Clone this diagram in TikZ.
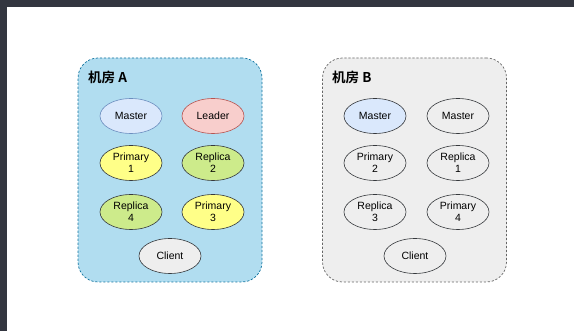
\documentclass[tikz,border=0pt]{standalone}
\usepackage{fontspec}
\usetikzlibrary{shapes.geometric}
\setmainfont{Liberation Sans}
\newfontfamily\cjk{Noto Sans CJK SC}[BoldFont={Noto Sans CJK SC Bold}]
\definecolor{frame}{HTML}{333640}
\definecolor{roomAfill}{HTML}{B1DDF0}
\definecolor{roomAline}{HTML}{10739E}
\definecolor{roomBfill}{HTML}{EEEEEE}
\definecolor{roomBline}{HTML}{666666}
\definecolor{darkline}{HTML}{36393D}
\definecolor{masterfill}{HTML}{DAE8FC}
\definecolor{masterline}{HTML}{6C8EBF}
\definecolor{leaderfill}{HTML}{F8CECC}
\definecolor{leaderline}{HTML}{B85450}
\definecolor{primaryfill}{HTML}{FFFF88}
\definecolor{replicafill}{HTML}{CDEB8B}
\definecolor{clientfill}{HTML}{EEEEEE}
\begin{document}
\begin{tikzpicture}[x=1pt,y=-1pt,
  room/.style={draw, dashed, dash pattern=on 2.2pt off 1.8pt, line width=0.7pt,
    rounded corners=20pt, minimum width=184pt, minimum height=224pt, inner sep=0pt},
  roomtitle/.style={anchor=west, font=\cjk\bfseries\fontsize{13.5}{15}\selectfont, inner sep=0pt},
  proc/.style={ellipse, draw=darkline, line width=0.6pt, minimum width=62pt,
    minimum height=35pt, inner sep=0pt, align=center,
    font=\fontsize{10.5}{12}\selectfont},
  master/.style={proc, fill=masterfill, draw=masterline},
  leader/.style={proc, fill=leaderfill, draw=leaderline},
  primary/.style={proc, fill=primaryfill},
  replica/.style={proc, fill=replicafill},
  client/.style={proc, fill=clientfill},
  plain/.style={proc, fill=clientfill},
]
% window frame
\fill[frame] (0,0) rectangle (574,331);
\fill[white] (7,7) rectangle (574,331);
\useasboundingbox (0,0) rectangle (574,331);

% room A
\node[room, fill=roomAfill, draw=roomAline] (roomA) at (170,170) {};
\node[roomtitle] (titleA) at (88,77) {机房 A};
\node[master]  (aMaster)   at (131,116) {Master};
\node[leader]  (aLeader)   at (213,116) {Leader};
\node[primary] (aPrimary1) at (131,163) {Primary\\1};
\node[replica] (aReplica2) at (213,163) {Replica\\2};
\node[replica] (aReplica4) at (131,212) {Replica\\4};
\node[primary] (aPrimary3) at (213,212) {Primary\\3};
\node[client]  (aClient)   at (170,256) {Client};

% room B
\node[room, fill=roomBfill, draw=roomBline] (roomB) at (414.5,170) {};
\node[roomtitle] (titleB) at (332,77) {机房 B};
\node[proc, fill=masterfill] (bMaster)   at (375,116) {Master};
\node[plain]   (bMaster2)  at (458,116) {Master};
\node[plain]   (bPrimary2) at (375,163) {Primary\\2};
\node[plain]   (bReplica1) at (458,163) {Replica\\1};
\node[plain]   (bReplica3) at (375,212) {Replica\\3};
\node[plain]   (bPrimary4) at (458,212) {Primary\\4};
\node[plain]   (bClient)   at (415,256) {Client};
\end{tikzpicture}
\end{document}
